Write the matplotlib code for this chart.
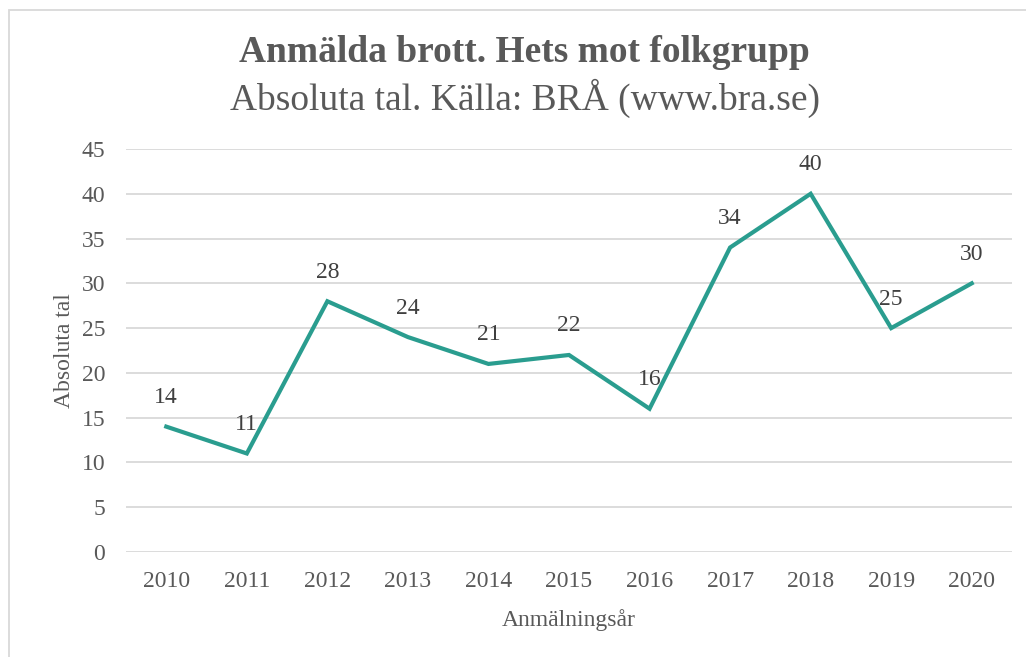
import matplotlib
matplotlib.use("Agg")
import matplotlib.pyplot as plt
from matplotlib.patches import Rectangle

years = ["2010", "2011", "2012", "2013", "2014", "2015", "2016", "2017", "2018", "2019", "2020"]
values = [14, 11, 28, 24, 21, 22, 16, 34, 40, 25, 30]
yticks = [0, 5, 10, 15, 20, 25, 30, 35, 40, 45]

W, H = 1026, 657
plt.rcParams['font.family'] = ['Liberation Serif', 'DejaVu Serif']
txt = '#595959'

fig = plt.figure(figsize=(W / 100, H / 100), dpi=100)
fig.patch.set_facecolor('white')

# outer border (cropped on right/bottom)
fig.add_artist(Rectangle((9 / W, -0.05), 1.1, 1 - 10 / H + 0.05, transform=fig.transFigure,
                         fill=False, edgecolor='#d9d9d9', linewidth=1.3))

ax = fig.add_axes([126 / W, 1 - 552 / H, (1012 - 126) / W, (552 - 149) / H])
x = list(range(len(years)))
ax.plot(x, values, color='#2a9d8f', linewidth=3.0, solid_joinstyle='miter', zorder=3)
for xi, v in zip(x, values):
    ax.annotate(str(v), (xi, v), xytext=(0, 29), textcoords='offset pixels',
                ha='center', va='center', fontsize=17, color='#404040', zorder=4)

ax.set_xlim(-0.5, len(years) - 0.5)
ax.set_ylim(0, 45)
ax.set_yticks(yticks)
ax.set_xticks(x)
ax.set_xticklabels(years)
ax.grid(axis='y', color='#d9d9d9', linewidth=1.3)
ax.set_axisbelow(True)
for s in ax.spines.values():
    s.set_visible(False)
ax.tick_params(axis='both', length=0, labelsize=17, labelcolor=txt)
ax.tick_params(axis='y', pad=15)
ax.tick_params(axis='x', pad=14)
ax.set_ylabel('Absoluta tal', fontsize=17, color=txt, labelpad=5)
ax.set_xlabel('Anmälningsår', fontsize=17, color=txt, labelpad=12)

fig.text(524 / W, 1 - 53 / H, 'Anmälda brott. Hets mot folkgrupp', ha='center', va='center',
         fontsize=27, fontweight='bold', color=txt)
fig.text(525 / W, 1 - 98 / H, 'Absoluta tal. Källa: BRÅ (www.bra.se)', ha='center', va='center',
         fontsize=27, color=txt)

fig.savefig('out.png', dpi=100)
